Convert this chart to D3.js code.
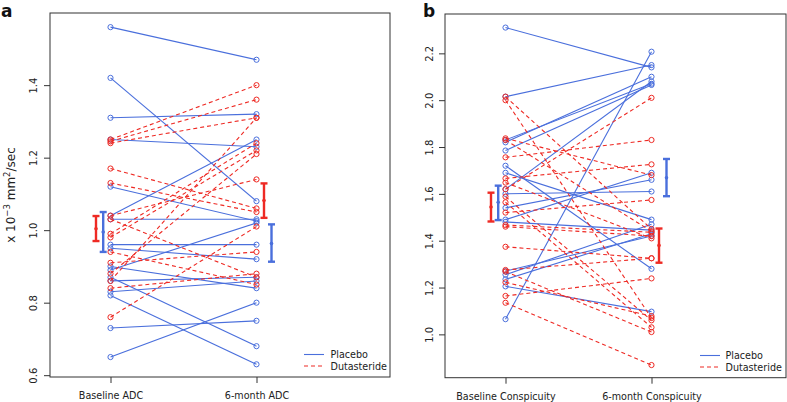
<!DOCTYPE html>
<html><head><meta charset="utf-8">
<script src="https://cdn.jsdelivr.net/npm/d3@7"></script>
<style>body{margin:0;background:#fff}svg{display:block}text{font-family:"DejaVu Sans",sans-serif}</style>
</head><body><svg id="c" width="787" height="402"></svg>
<script>
// ---------- Panel a: ADC ----------
const adcCategories = ["Baseline ADC", "6-month ADC"];
const adcTicks = [0.6, 0.8, 1.0, 1.2, 1.4];
const adcPlaceboBase = [1.56, 1.42, 1.31, 1.25, 1.12, 1.04, 1.03, 0.96, 0.95, 0.90, 0.89, 0.87, 0.86, 0.83, 0.82, 0.73, 0.65];
const adcPlacebo6m   = [1.47, 1.08, 1.32, 1.23, 1.025, 1.25, 1.03, 0.96, 0.92, 0.84, 1.02, 0.68, 0.87, 0.86, 0.63, 0.75, 0.80];
const adcDutBase = [1.25, 1.245, 1.24, 1.17, 1.13, 1.04, 1.03, 0.99, 0.98, 0.94, 0.91, 0.88, 0.86, 0.84, 0.76];
const adcDut6m   = [1.40, 1.36, 1.31, 1.06, 1.05, 1.14, 0.87, 1.24, 1.22, 0.85, 0.94, 1.21, 1.31, 0.88, 1.01];
const adcPlaceboMean = [0.995, 0.963], adcPlaceboLo = [0.940, 0.913], adcPlaceboHi = [1.050, 1.016];
const adcDutMean = [1.004, 1.082], adcDutLo = [0.970, 1.034], adcDutHi = [1.039, 1.129];

// ---------- Panel b: Conspicuity ----------
const conCategories = ["Baseline Conspicuity", "6-month Conspicuity"];
const conTicks = [1.0, 1.2, 1.4, 1.6, 1.8, 2.0, 2.2];
const conPlaceboBase = [2.31, 2.015, 1.83, 1.82, 1.785, 1.72, 1.69, 1.62, 1.60, 1.54, 1.49, 1.48, 1.27, 1.255, 1.235, 1.205, 1.065];
const conPlacebo6m   = [2.14, 2.15, 2.07, 2.10, 2.065, 1.28, 1.49, 2.08, 1.61, 1.66, 1.69, 1.445, 1.42, 1.47, 1.43, 1.097, 2.207];
const conDutBase = [2.015, 2.0, 1.837, 1.83, 1.756, 1.666, 1.648, 1.62, 1.588, 1.564, 1.52, 1.467, 1.46, 1.374, 1.275, 1.268, 1.222, 1.164, 1.135];
const conDut6m   = [1.45, 1.07, 1.68, 1.44, 1.83, 1.726, 1.41, 2.01, 1.06, 1.03, 1.574, 1.436, 1.42, 1.325, 1.325, 1.01, 1.078, 1.239, 0.869];
const conPlaceboMean = [1.564, 1.669], conPlaceboLo = [1.488, 1.590], conPlaceboHi = [1.635, 1.749];
const conDutMean = [1.544, 1.380], conDutLo = [1.482, 1.306], conDutHi = [1.605, 1.452];

const legendLabels = ["Placebo", "Dutasteride"];
const BLUE = "#4a6fdc", RED = "#ee2a24";
const FS = 9.6;

const svg = d3.select("#c");

function panel(o) {
  const g = svg.append("g");
  const x = d3.scalePoint().domain(o.cats).range([o.left + 60.5, o.left + 206.5]).padding(0);
  const y = d3.scaleLinear().domain(o.domain).range([o.bottom, o.top]);
  const X0 = x(o.cats[0]), X1 = x(o.cats[1]);

  // box
  g.append("rect").attr("x", o.left).attr("y", o.top).attr("width", o.right - o.left).attr("height", o.bottom - o.top)
    .attr("fill", "none").attr("stroke", "#333").attr("stroke-width", 1);

  // y axis
  const ya = g.append("g").attr("transform", `translate(${o.left},0)`)
    .call(d3.axisLeft(y).tickValues(o.ticks).tickSize(6).tickFormat(d3.format(".1f")));
  ya.select(".domain").remove();
  ya.selectAll("line").attr("stroke", "#333");
  ya.selectAll("text").attr("transform", "rotate(-90)").attr("x", 0).attr("y", o.labOff).attr("dy", 0)
    .attr("text-anchor", "middle").attr("font-size", FS + 0.4).attr("fill", "#222").attr("font-family", "DejaVu Sans");

  // x axis
  const xa = g.append("g").attr("transform", `translate(0,${o.bottom})`)
    .call(d3.axisBottom(x).tickSize(6).tickPadding(6));
  xa.select(".domain").remove();
  xa.selectAll("line").attr("stroke", "#333");
  xa.selectAll("text").attr("font-size", FS).attr("fill", "#222").attr("font-family", "DejaVu Sans").attr("dy", "1.05em");

  // series
  function series(base, six, color, dash) {
    const pairs = base.map((b, i) => [b, six[i]]);
    g.append("g").selectAll("line").data(pairs).join("line")
      .attr("x1", X0).attr("x2", X1).attr("y1", d => y(d[0])).attr("y2", d => y(d[1]))
      .attr("stroke", color).attr("stroke-width", 1.1).attr("stroke-dasharray", dash);
    const pts = pairs.flatMap(d => [[X0, d[0]], [X1, d[1]]]);
    g.append("g").selectAll("circle").data(pts).join("circle")
      .attr("cx", d => d[0]).attr("cy", d => y(d[1])).attr("r", 2.6)
      .attr("fill", "none").attr("stroke", color).attr("stroke-width", 1);
  }
  series(o.pb, o.p6, BLUE, null);
  series(o.db, o.d6, RED, "4,3");

  // error bars
  function errbars(mean, lo, hi, color, offs) {
    const d = mean.map((m, i) => ({ x: x(o.cats[i]) + offs[i], m, lo: lo[i], hi: hi[i] }));
    const eg = g.append("g").attr("stroke", color).attr("stroke-width", 2.4);
    eg.selectAll(".v").data(d).join("line").attr("x1", e => e.x).attr("x2", e => e.x).attr("y1", e => y(e.lo)).attr("y2", e => y(e.hi));
    eg.selectAll(".t").data(d).join("line").attr("x1", e => e.x - 3.5).attr("x2", e => e.x + 3.5).attr("y1", e => y(e.hi)).attr("y2", e => y(e.hi));
    eg.selectAll(".b").data(d).join("line").attr("x1", e => e.x - 3.5).attr("x2", e => e.x + 3.5).attr("y1", e => y(e.lo)).attr("y2", e => y(e.lo));
    g.append("g").selectAll("circle").data(d).join("circle").attr("cx", e => e.x).attr("cy", e => y(e.m)).attr("r", 1.8).attr("fill", color);
  }
  errbars(o.dm, o.dl, o.dh, RED, [-14.5, 7.5]);
  errbars(o.pm, o.pl, o.ph, BLUE, [-7.3, 15]);

  // legend
  const lg = g.append("g");
  const cols = [BLUE, RED], dashes = [null, "4,3"];
  legendLabels.forEach((t, i) => {
    const yy = o.legY + i * 11.5;
    lg.append("line").attr("x1", o.legX).attr("x2", o.legX + 20).attr("y1", yy).attr("y2", yy)
      .attr("stroke", cols[i]).attr("stroke-width", 1.1).attr("stroke-dasharray", dashes[i]);
    lg.append("text").attr("x", o.legTX).attr("y", yy + 3.5).attr("font-size", FS).attr("fill", "#222").text(t);
  });

  // panel letter
  g.append("text").attr("x", o.letterX).attr("y", 17).attr("font-size", 17).attr("font-weight", "bold").attr("fill", "#111").text(o.letter);
}

panel({ cats: adcCategories, ticks: adcTicks, left: 50, right: 390, top: 13, bottom: 377, domain: [0.595, 1.599], labOff: -13,
  pb: adcPlaceboBase, p6: adcPlacebo6m, db: adcDutBase, d6: adcDut6m,
  pm: adcPlaceboMean, pl: adcPlaceboLo, ph: adcPlaceboHi, dm: adcDutMean, dl: adcDutLo, dh: adcDutHi,
  legX: 304, legTX: 330.5, legY: 354.5, letter: "a", letterX: 1 });

panel({ cats: conCategories, ticks: conTicks, left: 445, right: 786, top: 14, bottom: 377.7, domain: [0.815, 2.368], labOff: -12,
  pb: conPlaceboBase, p6: conPlacebo6m, db: conDutBase, d6: conDut6m,
  pm: conPlaceboMean, pl: conPlaceboLo, ph: conPlaceboHi, dm: conDutMean, dl: conDutLo, dh: conDutHi,
  legX: 700, legTX: 725.5, legY: 355.5, letter: "b", letterX: 423 });

// y-axis title for panel a
const yt = svg.append("text").attr("transform", "translate(15,195) rotate(-90)").attr("text-anchor", "middle")
  .attr("font-size", 12).attr("fill", "#222");
yt.append("tspan").text("x 10");
yt.append("tspan").attr("font-size", 8.5).attr("dy", -5).text("\u22123");
yt.append("tspan").attr("dy", 5).text(" mm");
yt.append("tspan").attr("font-size", 8.5).attr("dy", -5).text("2");
yt.append("tspan").attr("dy", 5).text("/sec");
</script></body></html>
